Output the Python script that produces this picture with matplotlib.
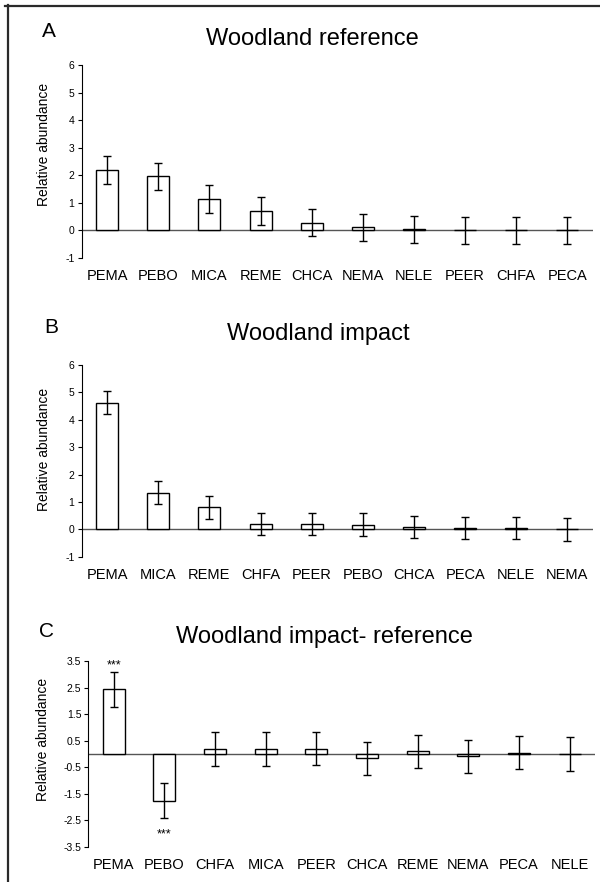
import matplotlib
matplotlib.use("Agg")
import matplotlib.pyplot as plt
from matplotlib.lines import Line2D

plt.rcParams['font.family'] = ['Liberation Sans', 'DejaVu Sans']

# ---- data ----
cats_a = ["PEMA", "PEBO", "MICA", "REME", "CHCA", "NEMA", "NELE", "PEER", "CHFA", "PECA"]
vals_a = [2.19, 1.96, 1.14, 0.72, 0.28, 0.12, 0.05, 0.0, 0.0, 0.0]
errs_a = [0.51, 0.49, 0.49, 0.51, 0.49, 0.49, 0.49, 0.49, 0.49, 0.49]

cats_b = ["PEMA", "MICA", "REME", "CHFA", "PEER", "PEBO", "CHCA", "PECA", "NELE", "NEMA"]
vals_b = [4.62, 1.34, 0.80, 0.21, 0.21, 0.17, 0.09, 0.05, 0.04, 0.0]
errs_b = [0.42, 0.41, 0.41, 0.40, 0.40, 0.41, 0.39, 0.40, 0.41, 0.41]

cats_c = ["PEMA", "PEBO", "CHFA", "MICA", "PEER", "CHCA", "REME", "NEMA", "PECA", "NELE"]
vals_c = [2.43, -1.77, 0.20, 0.20, 0.19, -0.17, 0.09, -0.09, 0.05, 0.0]
errs_c = [0.65, 0.66, 0.64, 0.64, 0.62, 0.63, 0.63, 0.63, 0.63, 0.63]
sig_c = ["***", "***", "", "", "", "", "", "", "", ""]

titles = ["Woodland reference", "Woodland impact", "Woodland impact- reference"]
letters = ["A", "B", "C"]
yticks_ab = [-1, 0, 1, 2, 3, 4, 5, 6]
yticks_c = [-3.5, -2.5, -1.5, -0.5, 0.5, 1.5, 2.5, 3.5]

W, H = 600, 882
fig = plt.figure(figsize=(W / 100, H / 100), dpi=100)
fig.patch.set_facecolor("white")


def px_axes(left, right, top, bottom):
    return fig.add_axes([left / W, 1 - bottom / H, (right - left) / W, (bottom - top) / H])


def draw_panel(ax, cats, vals, errs, yticks, ylim, label_xy):
    x = list(range(len(cats)))
    ax.bar(x, vals, width=0.43, color="white", edgecolor="black", linewidth=1.0, zorder=2)
    ax.errorbar(x, vals, yerr=errs, fmt="none", ecolor="black", elinewidth=1.0,
                capsize=3.2, capthick=1.0, zorder=3)
    ax.axhline(0, color="#555555", linewidth=1.0, zorder=1)
    ax.set_xlim(-0.5, len(cats) - 0.5)
    ax.set_ylim(*ylim)
    ax.set_yticks(yticks)
    ax.set_yticklabels([("%g" % t) for t in yticks], fontsize=7.5)
    ax.set_xticks(x)
    ax.set_xticklabels(cats, fontsize=10.5)
    ax.tick_params(axis="x", length=0, pad=8)
    ax.tick_params(axis="y", direction="out", length=3, width=0.8, pad=2)
    for s in ["top", "right", "bottom"]:
        ax.spines[s].set_visible(False)
    ax.spines["left"].set_linewidth(0.8)
    ax.set_ylabel("Relative abundance", fontsize=10)
    ax.yaxis.set_label_coords(*label_xy)


axA = px_axes(81.5, 593, 65, 258)
draw_panel(axA, cats_a, vals_a, errs_a, yticks_ab, (-1, 6), (-0.06, 0.59))
axB = px_axes(81.5, 593, 365, 556.7)
draw_panel(axB, cats_b, vals_b, errs_b, yticks_ab, (-1, 6), (-0.06, 0.56))
axC = px_axes(88.3, 595, 661, 846.7)
draw_panel(axC, cats_c, vals_c, errs_c, yticks_c, (-3.5, 3.5), (-0.076, 0.575))

for i, s in enumerate(sig_c):
    if not s:
        continue
    v, e = vals_c[i], errs_c[i]
    if v >= 0:
        axC.annotate(s, (i, v + e), xytext=(0, 3), textcoords="offset points",
                     ha="center", va="baseline", fontsize=9)
    else:
        axC.annotate(s, (i, v - e), xytext=(0, -13.5), textcoords="offset points",
                     ha="center", va="baseline", fontsize=9)

# titles and panel letters
title_pos = [(312, 45), (318, 340), (324, 643)]
letter_pos = [(49, 36.7), (51, 333), (47, 637)]
for t, (tx, ty) in zip(titles, title_pos):
    fig.text(tx / W, 1 - ty / H, t, ha="center", va="baseline", fontsize=17)
for l, (lx, ly) in zip(letters, letter_pos):
    fig.text(lx / W, 1 - ly / H, l, ha="center", va="baseline", fontsize=15)

# frame lines (top and left)
fig.add_artist(Line2D([5 / W, 1], [1 - 6 / H, 1 - 6 / H], transform=fig.transFigure,
                      color="#2a2a2a", linewidth=1.6))
fig.add_artist(Line2D([8.3 / W, 8.3 / W], [0, 1 - 5 / H], transform=fig.transFigure,
                      color="#2a2a2a", linewidth=1.6))

fig.savefig("out.png", dpi=100, facecolor="white")
